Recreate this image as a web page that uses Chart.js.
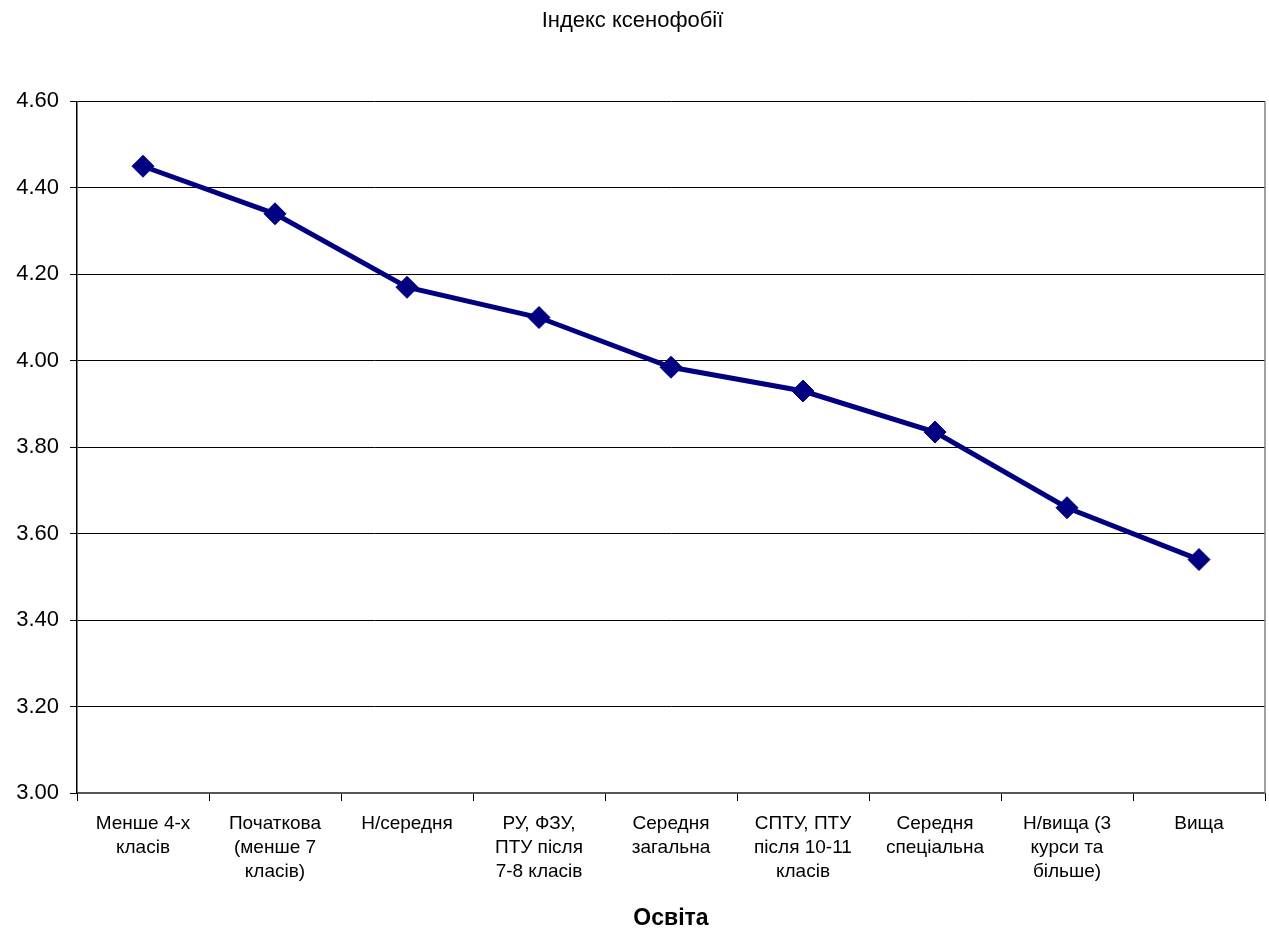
<!DOCTYPE html>
<html>
<head>
<meta charset="utf-8">
<script src="https://cdn.jsdelivr.net/npm/chart.js@4/dist/chart.umd.min.js"></script>
<style>
html,body{margin:0;padding:0;background:#fff;overflow:hidden;}
#wrap{width:1269px;height:934px;}
#c{display:block;}
</style>
</head>
<body>
<div id="wrap"><canvas id="c" width="1269" height="934"></canvas></div>
<script>
const titleText = 'Індекс ксенофобії';
const xAxisTitle = 'Освіта';
const categories = [
  ['Менше 4-х', 'класів'],
  ['Початкова', '(менше 7', 'класів)'],
  ['Н/середня'],
  ['РУ, ФЗУ,', 'ПТУ після', '7-8 класів'],
  ['Середня', 'загальна'],
  ['СПТУ, ПТУ', 'після 10-11', 'класів'],
  ['Середня', 'спеціальна'],
  ['Н/вища (3', 'курси та', 'більше)'],
  ['Вища']
];
const seriesName = 'Індекс ксенофобії';
const values = [4.45, 4.34, 4.17, 4.10, 3.985, 3.93, 3.835, 3.66, 3.54];
const yMin = 3.0, yMax = 4.6, yStep = 0.2;

const rightBorder = {
  id: 'rightBorder',
  afterDraw(chart) {
    const {ctx, chartArea} = chart;
    ctx.save();
    ctx.strokeStyle = '#808080';
    ctx.lineWidth = 1.5;
    ctx.beginPath();
    ctx.moveTo(chartArea.right, chartArea.top);
    ctx.lineTo(chartArea.right, chartArea.bottom);
    ctx.stroke();
    ctx.restore();
  }
};

new Chart(document.getElementById('c'), {
  type: 'line',
  data: {
    labels: categories,
    datasets: [{
      label: seriesName,
      data: values,
      borderColor: '#000080',
      backgroundColor: '#000080',
      borderWidth: 5,
      pointStyle: 'rectRot',
      pointRadius: 11,
      pointBorderWidth: 1,
      pointBackgroundColor: '#000080',
      pointBorderColor: '#000080',
      tension: 0,
      fill: false,
      clip: false
    }]
  },
  plugins: [rightBorder],
  options: {
    responsive: false,
    animation: false,
    devicePixelRatio: 1,
    layout: { autoPadding: false, padding: { left: 0, right: 4, top: 0, bottom: 2 } },
    plugins: {
      legend: { display: false },
      tooltip: { enabled: false },
      title: {
        display: true,
        text: titleText,
        color: '#000',
        font: { family: 'Liberation Sans, Arial, sans-serif', size: 22, weight: 'normal' },
        padding: { top: 8, bottom: 67 }
      }
    },
    scales: {
      x: {
        offset: true,
        grid: { offset: true, drawOnChartArea: false, drawTicks: true, tickLength: 8, color: '#000' },
        border: { color: '#555', width: 2 },
        ticks: {
          color: '#000',
          maxRotation: 0, minRotation: 0, autoSkip: false,
          padding: 11,
          font: { family: 'Liberation Sans, Arial, sans-serif', size: 19, lineHeight: 1.26 }
        },
        title: {
          display: true,
          text: xAxisTitle,
          color: '#000',
          font: { family: 'Liberation Sans, Arial, sans-serif', size: 23, weight: 'bold' },
          padding: { top: 6, bottom: 0 }
        },
        afterFit(scale) {
          scale.height = 139;
          scale.paddingLeft = 0;
          scale.paddingRight = 0;
        }
      },
      y: {
        min: yMin, max: yMax,
        grid: { color: '#000', lineWidth: 1, drawTicks: true, tickLength: 7 },
        border: { color: '#000', width: 1.5 },
        ticks: {
          stepSize: yStep,
          color: '#000',
          padding: 11,
          font: { family: 'Liberation Sans, Arial, sans-serif', size: 22 },
          callback: v => Number(v).toFixed(2)
        },
        afterFit(scale) { scale.width = 77; }
      }
    }
  }
});
</script>
</body>
</html>
